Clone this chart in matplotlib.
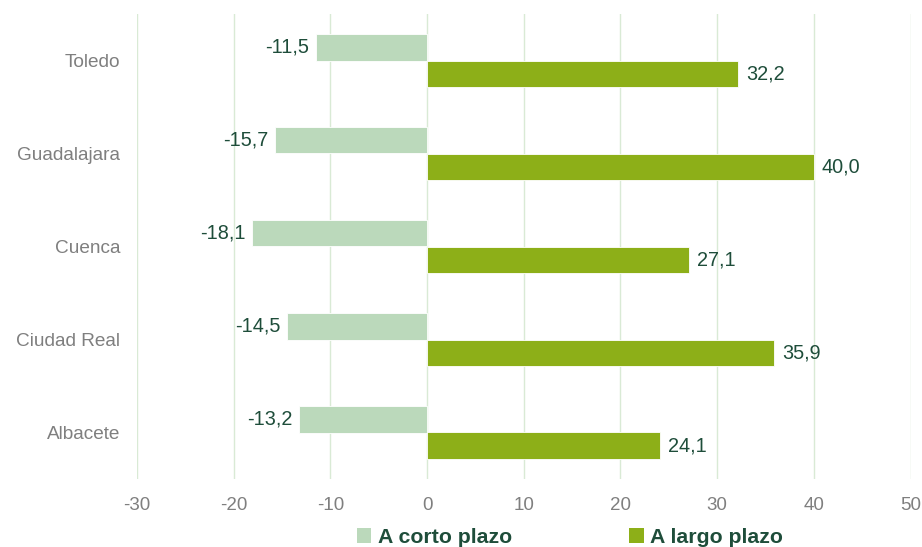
import matplotlib
matplotlib.use("Agg")
import matplotlib.pyplot as plt
import numpy as np
from matplotlib.patches import Patch

plt.rcParams['font.family'] = ['Liberation Sans', 'DejaVu Sans']

categories = ["Toledo", "Guadalajara", "Cuenca", "Ciudad Real", "Albacete"]
corto = [-11.5, -15.7, -18.1, -14.5, -13.2]
largo = [32.2, 40.0, 27.1, 35.9, 24.1]
xticks = [-30, -20, -10, 0, 10, 20, 30, 40, 50]
series_names = ["A corto plazo", "A largo plazo"]

c_corto = "#BBD9BB"
c_largo = "#8DAF18"
c_text = "#1E4D3A"
c_tick = "#7F7F7F"
c_grid = "#D9EAD5"

fig = plt.figure(figsize=(9.22, 5.47), dpi=100)
ax = fig.add_axes([137/922, 1-479/547, (910.5-137)/922, (479-14)/547])

y = np.arange(len(categories))
h = 0.28
ax.barh(y - h/2, corto, height=h, color=c_corto, edgecolor="white", linewidth=0.6, zorder=3)
ax.barh(y + h/2, largo, height=h, color=c_largo, edgecolor="white", linewidth=0.6, zorder=3)

def fmt(v):
    return f"{v:.1f}".replace(".", ",")

for yi, v in zip(y, corto):
    ax.text(v - 0.7, yi - h/2, fmt(v), ha="right", va="center", fontsize=14.3, color=c_text)
for yi, v in zip(y, largo):
    ax.text(v + 0.8, yi + h/2, fmt(v), ha="left", va="center", fontsize=14.3, color=c_text)

ax.set_xlim(-30, 50)
ax.set_ylim(len(categories) - 0.5, -0.5)
ax.set_xticks(xticks)
ax.set_xticklabels([str(t) for t in xticks], fontsize=13.5, color=c_tick)
ax.set_yticks(y)
ax.set_yticklabels(categories, fontsize=13.7, color=c_tick)
ax.tick_params(axis="both", length=0)
ax.tick_params(axis="x", pad=13)
ax.tick_params(axis="y", pad=12)
ax.grid(axis="x", color=c_grid, linewidth=1, zorder=0)
for s in ax.spines.values():
    s.set_visible(False)

handles = [Patch(facecolor=c_corto), Patch(facecolor=c_largo)]
leg = fig.legend(handles, series_names, loc="lower center", bbox_to_anchor=(0.618, -0.035),
                 ncol=2, frameon=False, handlelength=0.7, handleheight=0.7,
                 handletextpad=0.3, columnspacing=5.5,
                 prop={"weight": "bold", "size": 15.3})
for t in leg.get_texts():
    t.set_color(c_text)

fig.savefig("out.png", dpi=100)
